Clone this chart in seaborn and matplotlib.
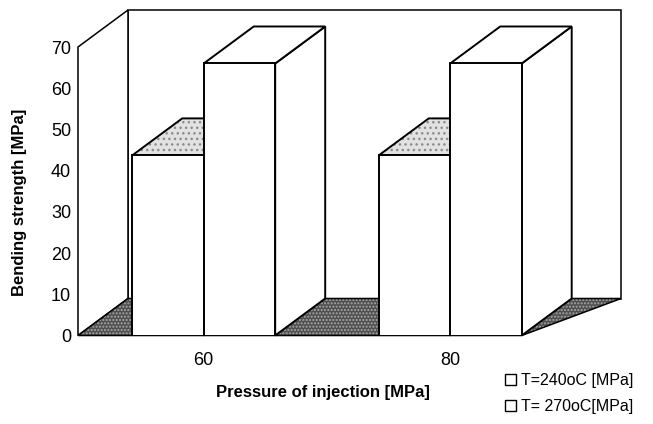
import numpy as np
import pandas as pd
import seaborn as sns
import matplotlib.pyplot as plt
from matplotlib.patches import Polygon, Patch

# dane
pressures = ['60', '80']
t240 = [43.7, 43.7]
t270 = [66.0, 66.0]
series_labels = ['T=240oC [MPa]', 'T= 270oC[MPa]']
y_ticks = [0, 10, 20, 30, 40, 50, 60, 70]

data = pd.DataFrame({
    'Pressure': pressures * 2,
    'Strength': t240 + t270,
    'Series': [series_labels[0]] * 2 + [series_labels[1]] * 2,
})

sns.set_style('white')
plt.rcParams['font.family'] = ['Liberation Sans', 'DejaVu Sans']
plt.rcParams['text.color'] = 'black'
plt.rcParams['axes.labelcolor'] = 'black'
plt.rcParams['xtick.color'] = 'black'
plt.rcParams['ytick.color'] = 'black'

W, H = 653, 424
fig = plt.figure(figsize=(W / 100, H / 100), dpi=100)
ax = fig.add_axes([78 / W, (H - 335.5) / H, 493 / W, 288.5 / H])

sns.barplot(
    data=data,
    x='Pressure',
    y='Strength',
    hue='Series',
    order=pressures,
    hue_order=series_labels,
    palette=['white', 'white'],
    edgecolor='black',
    linewidth=1.4,
    width=0.58,
    legend=False,
    ax=ax
)

xmin, xmax = -0.51, 1.49
ymax = 70
ax.set_xlim(xmin, xmax)
ax.set_ylim(0, ymax)

# przesunięcie głębi (piksele -> jednostki danych)
ddx = 50 / 493 * (xmax - xmin)
ddy = 37 / 288.5 * ymax

lw = 1.1
# ściana tylna i lewa
ax.add_patch(Polygon([(xmin + ddx, ddy), (xmax + ddx, ddy), (xmax + ddx, ymax + ddy), (xmin + ddx, ymax + ddy)],
                     closed=True, facecolor='white', edgecolor='black', linewidth=lw, clip_on=False, zorder=1))
ax.add_patch(Polygon([(xmin, 0), (xmin, ymax), (xmin + ddx, ymax + ddy), (xmin + ddx, ddy)],
                     closed=True, facecolor='white', edgecolor='black', linewidth=lw, clip_on=False, zorder=1))

bars = sorted(ax.patches[:len(data)], key=lambda p: p.get_x())
floor_right = max(p.get_x() + p.get_width() for p in bars)

# podłoga
floor = [(xmin, 0), (floor_right, 0), (xmax + ddx, ddy), (xmin + ddx, ddy)]
ax.add_patch(Polygon(floor, closed=True, facecolor='#4f4f4f', edgecolor='#a8a8a8',
                     hatch='.....', linewidth=0, clip_on=False, zorder=2))
ax.add_patch(Polygon(floor, closed=True, fill=False, edgecolor='black', linewidth=lw, clip_on=False, zorder=2))

# słupki 3D: bok, góra, przód
for i, p in enumerate(bars):
    x0, w, h = p.get_x(), p.get_width(), p.get_height()
    shaded = abs(h - t240[0]) < 1e-6
    base = 10 + 3 * i
    side = [(x0 + w, 0), (x0 + w + ddx, ddy), (x0 + w + ddx, h + ddy), (x0 + w, h)]
    top = [(x0, h), (x0 + w, h), (x0 + w + ddx, h + ddy), (x0 + ddx, h + ddy)]
    ax.add_patch(Polygon(side, closed=True, facecolor='white', edgecolor='black',
                         linewidth=1.4, clip_on=False, zorder=base))
    if shaded:
        ax.add_patch(Polygon(top, closed=True, facecolor='#e2e2e2', edgecolor='#8a8a8a',
                             hatch='...', linewidth=0, clip_on=False, zorder=base + 1))
        ax.add_patch(Polygon(top, closed=True, fill=False, edgecolor='black',
                             linewidth=1.4, clip_on=False, zorder=base + 1))
    else:
        ax.add_patch(Polygon(top, closed=True, facecolor='white', edgecolor='black',
                             linewidth=1.4, clip_on=False, zorder=base + 1))
    p.set_zorder(base + 2)

sns.despine(ax=ax, left=True, bottom=True)
ax.set_yticks(y_ticks)
ax.tick_params(axis='y', length=0, pad=5, labelsize=13)
ax.tick_params(axis='x', length=0, pad=12, labelsize=13)

ax.set_xlabel('Pressure of injection [MPa]', fontsize=12, fontweight='bold')
ax.set_ylabel('Bending strength [MPa]', fontsize=12, fontweight='bold')
ax.xaxis.set_label_coords(0.497, -0.172)
ax.yaxis.set_label_coords(-0.118, 0.462)
ax.yaxis.label.set_verticalalignment('center')

handles = [Patch(facecolor='white', edgecolor='black', linewidth=1.0) for _ in series_labels]
fig.legend(
    handles, series_labels,
    loc='upper left',
    bbox_to_anchor=(497 / W, (H - 365) / H),
    frameon=False,
    fontsize=11.5,
    handlelength=0.7,
    handleheight=0.7,
    handletextpad=0.3,
    labelspacing=0.7,
    borderpad=0
)

fig.savefig('out.png', dpi=100)
